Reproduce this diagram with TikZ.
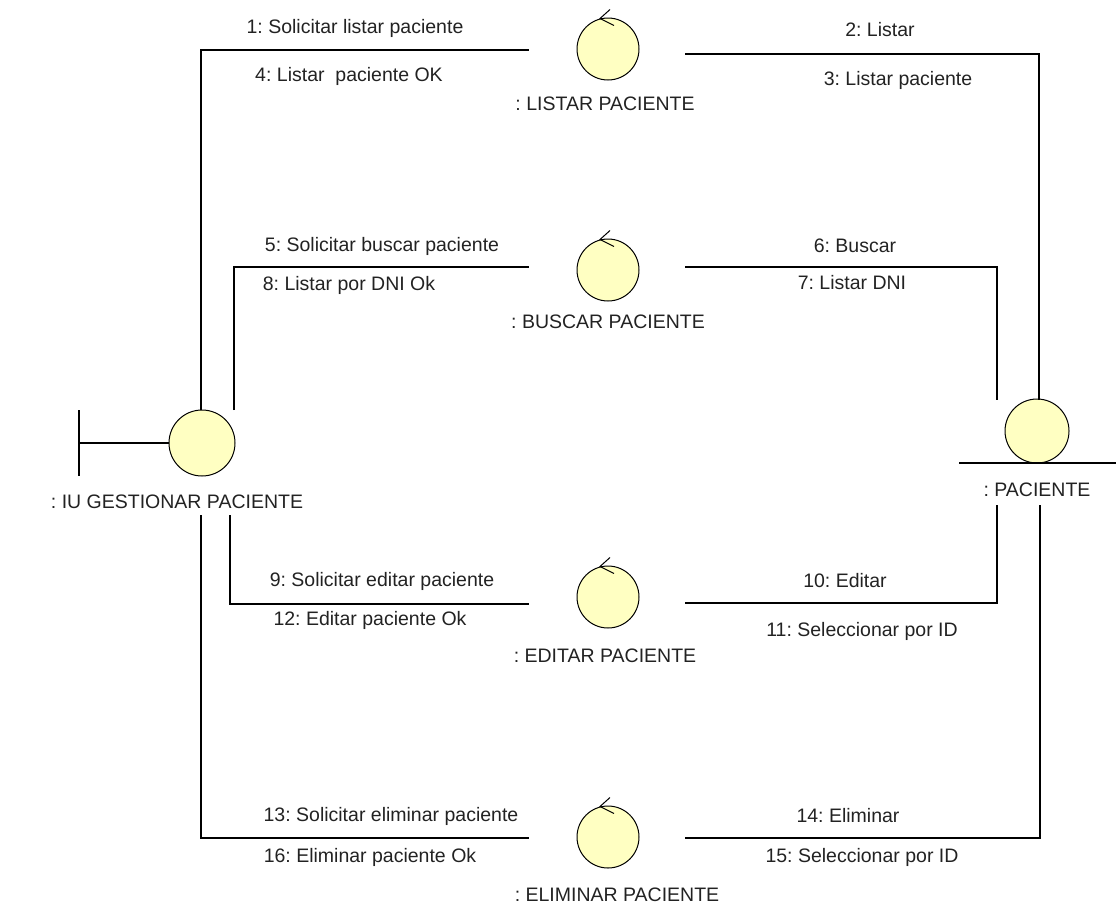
\documentclass[tikz,border=0pt]{standalone}
\usepackage{fontspec}
\setmainfont{Liberation Sans}
\usetikzlibrary{calc}
\definecolor{objfill}{RGB}{255,255,194}
\definecolor{txt}{RGB}{34,34,34}
\frenchspacing
\begin{document}
\begin{tikzpicture}[x=1pt,y=-1pt,
  obj/.style={circle,draw=black,fill=objfill,line width=1pt,inner sep=0pt},
  ctrl/.style={obj,minimum size=62pt},
  msg/.style={font=\fontsize{19.5}{22}\selectfont,text=txt,inner sep=0pt},
  conn/.style={line width=1.2pt,draw=black},
  heavy/.style={line width=2.2pt,draw=black},
  stroke/.style={line width=1.2pt,draw=black}]
\useasboundingbox (0,0) rectangle (1116,905);

% ---------- objects ----------
\node[obj,minimum size=66pt] (iu) at (202,443) {};
\node[ctrl] (listar) at (608,49) {};
\node[ctrl] (buscar) at (608,270) {};
\node[ctrl] (editar) at (608,597) {};
\node[ctrl] (eliminar) at (608,837) {};
\node[obj,minimum size=64pt] (pac) at (1037,431) {};

% boundary symbol
\coordinate (bt) at (79,410);
\coordinate (bb) at (79,476);
\coordinate (bm) at (79,443);
\draw[stroke] (bt) -- (bb);
\draw[stroke] (bm) -- (iu.west);

% entity underline
\coordinate (ul) at (959,463);
\coordinate (ur) at (1116,463);
\draw[stroke] (ul) -- (ur);

% control arrows
\foreach \c in {listar,buscar,editar,eliminar}{
  \draw[line width=1pt] ($(\c.north)+(2,-8)$) -- ($(\c.north)+(-8,1)$) -- ($(\c.north)+(6,8)$);
}

% ---------- object labels ----------
\node[msg] (liu) at (177,502) {: IU GESTIONAR PACIENTE};
\node[msg] (llis) at (605,104) {: LISTAR PACIENTE};
\node[msg] (lbus) at (608,322) {: BUSCAR PACIENTE};
\node[msg] (ledi) at (605,656) {: EDITAR PACIENTE};
\node[msg] (leli) at (617,895) {: ELIMINAR PACIENTE};
\node[msg] (lpac) at (1037,490) {: PACIENTE};

% ---------- link end points ----------
\coordinate (a1) at (201,410); \coordinate (a2) at (529,50);
\coordinate (b1) at (685,54);  \coordinate (b2) at (1039,400);
\coordinate (c1) at (234,410); \coordinate (c2) at (529,267);
\coordinate (d1) at (685,267); \coordinate (d2) at (997,400);
\coordinate (e1) at (230,515); \coordinate (e2) at (529,604);
\coordinate (f1) at (685,603); \coordinate (f2) at (997,505);
\coordinate (g1) at (201,515); \coordinate (g2) at (529,838);
\coordinate (h1) at (685,838); \coordinate (h2) at (1040,505);

% ---------- links ----------
\draw[conn] (a1) |- (a2);
\draw[heavy] (b1) -| (b2);
\draw[conn] (c1) |- (c2);
\draw[conn] (d1) -| (d2);
\draw[conn] (e1) |- (e2);
\draw[conn] (f1) -| (f2);
\draw[conn] (g1) |- (g2);
\draw[conn] (h1) -| (h2);

% ---------- messages ----------
\node[msg] (m1)  at (355,28)  {1: Solicitar listar paciente};
\node[msg] (m4)  at (349,76)  {4: Listar\ \ paciente OK};
\node[msg] (m2)  at (880,30)  {2: Listar};
\node[msg] (m3)  at (898,80)  {3: Listar paciente};
\node[msg] (m5)  at (382,246) {5: Solicitar buscar paciente};
\node[msg] (m8)  at (349,285) {8: Listar por DNI Ok};
\node[msg] (m6)  at (855,246) {6: Buscar};
\node[msg] (m7)  at (852,283) {7: Listar DNI};
\node[msg] (m9)  at (382,581) {9: Solicitar editar paciente};
\node[msg] (m12) at (370,620) {12: Editar paciente Ok};
\node[msg] (m10) at (845,581) {10: Editar};
\node[msg] (m11) at (862,631) {11: Seleccionar por ID};
\node[msg] (m13) at (391,816) {13: Solicitar eliminar paciente};
\node[msg] (m16) at (370,857) {16: Eliminar paciente Ok};
\node[msg] (m14) at (848,816) {14: Eliminar};
\node[msg] (m15) at (862,857) {15: Seleccionar por ID};
\end{tikzpicture}
\end{document}
